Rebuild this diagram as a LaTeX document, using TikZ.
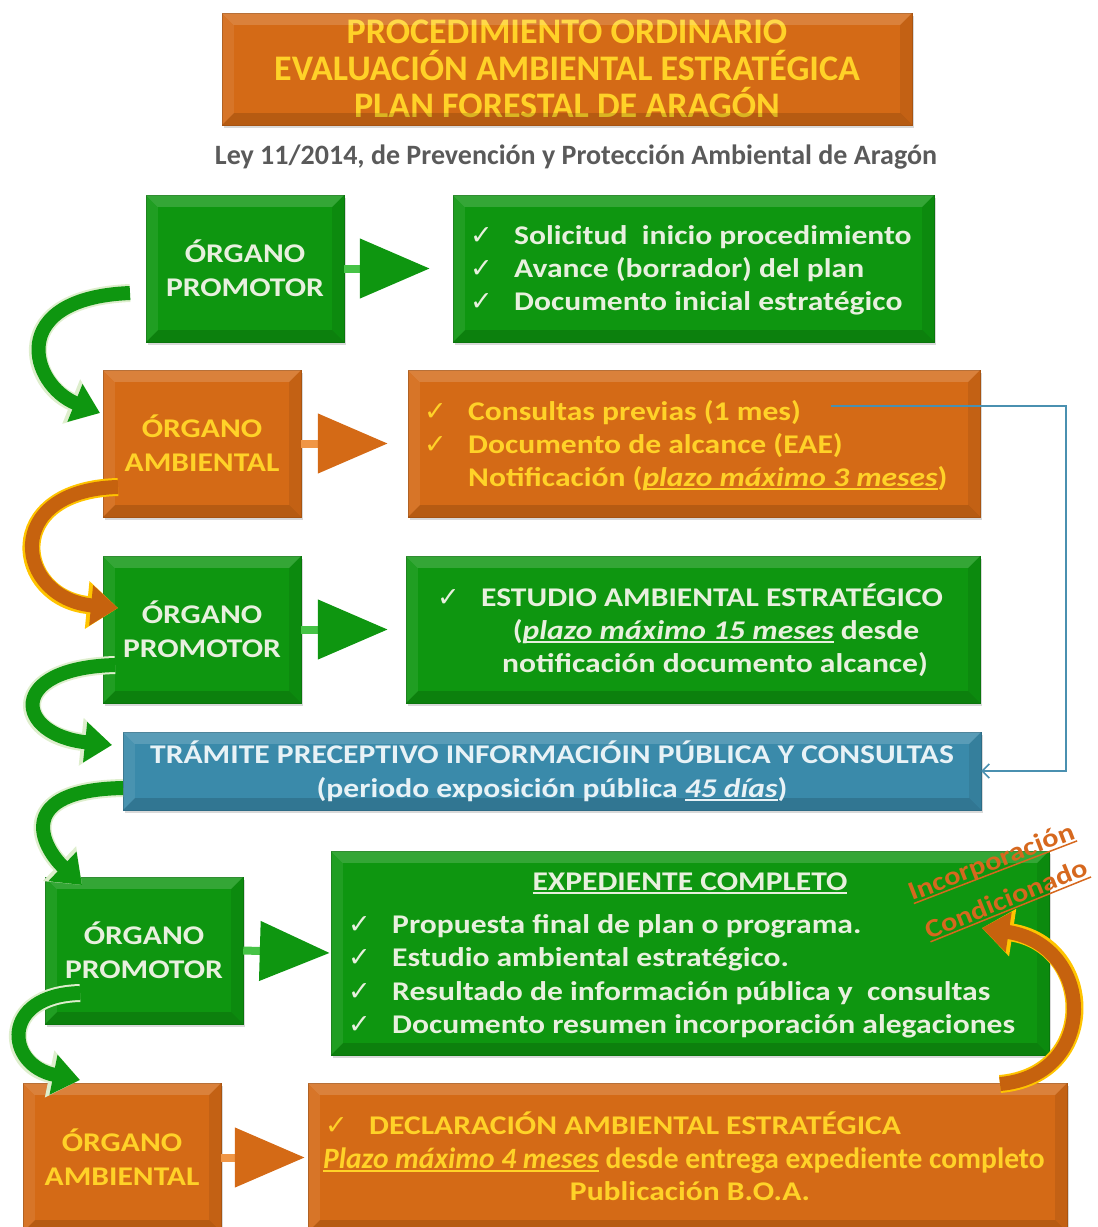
\documentclass[tikz,border=0pt]{standalone}
\usepackage{fontspec}
\setmainfont{Carlito}
\newfontfamily\boxfont{Carlito}[FakeStretch=1.17]
\newfontfamily\symfont{DejaVu Sans}
\usetikzlibrary{arrows.meta,shadows}

\definecolor{grn}{RGB}{14,150,16}
\definecolor{grnshaft}{RGB}{70,195,70}
\definecolor{org}{RGB}{212,106,22}
\definecolor{orgshaft}{RGB}{240,150,70}
\definecolor{blu}{RGB}{58,138,170}
\definecolor{gold}{RGB}{255,210,40}
\definecolor{pale}{RGB}{232,240,222}
\definecolor{bluetext}{RGB}{232,242,246}
\definecolor{linkblue}{RGB}{74,144,176}
\definecolor{subgray}{RGB}{90,90,90}
\definecolor{incorpc}{RGB}{214,104,30}
\definecolor{paleline}{RGB}{222,238,205}
\definecolor{goldline}{RGB}{255,196,0}
\definecolor{orgarrow}{RGB}{198,98,14}

% check mark in front of a line
\newcommand{\chk}{\makebox[44pt][l]{\symfont\fontsize{27}{27}\selectfont ✓}}
% underlined words
\newcommand{\undl}[1]{\setbox0\hbox{#1}\rlap{\rule[-3.5pt]{\wd0}{1.5pt}}\box0\relax}

% bevel bands on a box
\newcommand{\bevel}[1]{%
  \fill[white,opacity=.16] (#1.north west) -- (#1.north east) -- ([shift={(-12pt,-12pt)}]#1.north east) -- ([shift={(12pt,-12pt)}]#1.north west) -- cycle;
  \fill[white,opacity=.08] (#1.north west) -- ([shift={(12pt,-12pt)}]#1.north west) -- ([shift={(12pt,12pt)}]#1.south west) -- (#1.south west) -- cycle;
  \fill[black,opacity=.08] (#1.north east) -- ([shift={(-12pt,-12pt)}]#1.north east) -- ([shift={(-12pt,12pt)}]#1.south east) -- (#1.south east) -- cycle;
  \fill[black,opacity=.14] (#1.south west) -- ([shift={(12pt,12pt)}]#1.south west) -- ([shift={(-12pt,12pt)}]#1.south east) -- (#1.south east) -- cycle;
}

% curved block arrow: outline colour, fill colour, path
\newcommand{\bendarrow}[3]{%
  \draw[#1, line width=18pt, -{Triangle[length=31pt,width=46pt]}] #3;
  \draw[#2, line width=14pt, -{Triangle[length=27pt,width=39pt]}] #3;
}

\tikzset{
  box/.style={inner sep=0pt, align=center, minimum width=198pt, minimum height=147pt,
    font=\boxfont\bfseries\fontsize{27}{34}\selectfont,
    drop shadow={shadow xshift=2pt, shadow yshift=-3pt, opacity=.3}},
  greenbox/.style={box, fill=grn, draw=grn!80!black, text=pale},
  orangebox/.style={box, fill=org, draw=org!80!black, text=gold},
  bluebox/.style={box, fill=blu, draw=blu!80!black, text=bluetext},
  titlebox/.style={orangebox, minimum width=690pt, minimum height=112pt,
    font=\bfseries\fontsize{36}{37}\selectfont},
  linetext/.style={inner sep=0pt, font=\boxfont\bfseries\fontsize{27}{33}\selectfont},
  headgreen/.style={line width=8pt, draw=grnshaft, -{Triangle[length=70pt,width=58pt,color=grn]}},
  headorange/.style={line width=8pt, draw=orgshaft, -{Triangle[length=70pt,width=58pt,color=org]}},
  incorp/.style={inner sep=0pt, text=incorpc, font=\boxfont\bfseries\fontsize{26}{30}\selectfont}
}

\begin{document}
\begin{tikzpicture}[x=1pt, y=-1pt]
  \useasboundingbox (0,0) rectangle (1098,1227);

  % Title and law
  \node[titlebox] (title) at (567,69) {PROCEDIMIENTO ORDINARIO\\EVALUACIÓN AMBIENTAL ESTRATÉGICA\\PLAN FORESTAL DE ARAGÓN};
  \bevel{title}
  \node[text=subgray, inner sep=0pt, font=\bfseries\fontsize{28}{30}\selectfont] (ley) at (576,157) {Ley 11/2014, de Prevención y Protección Ambiental de Aragón};

  % Boxes of the procedure
  \node[greenbox] (prom1) at (245,268.5) {ÓRGANO\\PROMOTOR};
  \node[greenbox, minimum width=481pt] (list1) at (693.5,268.5) {};
  \node[orangebox] (amb1) at (202,443.5) {ÓRGANO\\AMBIENTAL};
  \node[orangebox, minimum width=572pt] (list2) at (694,443.5) {};
  \node[greenbox] (prom2) at (202,629.5) {ÓRGANO\\PROMOTOR};
  \node[greenbox, minimum width=574pt] (list3) at (693,629.5) {};
  \node[bluebox, minimum width=858pt, minimum height=78pt] (tram) at (552,771) {};
  \node[greenbox] (prom3) at (144,950.5) {ÓRGANO\\PROMOTOR};
  \node[greenbox, minimum width=718pt, minimum height=204pt] (list5) at (690,953) {};
  \node[orangebox, minimum height=149pt] (amb2) at (122,1157.5) {ÓRGANO\\AMBIENTAL};
  \node[orangebox, minimum width=759pt, minimum height=149pt] (list6) at (687.5,1157.5) {};
  \foreach \b in {prom1,list1,amb1,list2,prom2,list3,tram,prom3,list5,amb2,list6}
    \bevel{\b};

  % Texts in the boxes
  \foreach \n/\y/\txt in {1/244/{Solicitud\ \ inicio procedimiento}, 2/277/{Avance (borrador) del plan}, 3/310/{Documento inicial estratégico}}
    \node[linetext, text=pale, anchor=base west] (sol\n) at (470,\y) {\chk\txt};
  \foreach \n/\y/\txt in {1/420/{\chk Consultas previas (1 mes)}, 2/453/{\chk Documento de alcance (EAE)}, 3/486/{\hspace*{44pt}Notificación (\undl{\itshape plazo máximo 3 meses})}}
    \node[linetext, text=gold, anchor=base west] (cons\n) at (424,\y) {\txt};
  \foreach \n/\x/\y/\txt in {1/690/606/{\chk ESTUDIO AMBIENTAL ESTRATÉGICO}, 2/716/639/{(\undl{\itshape plazo máximo 15 meses} desde}, 3/715/672/{notificación documento alcance)}}
    \node[linetext, text=pale, anchor=base] (est\n) at (\x,\y) {\txt};
  \node[linetext, text=bluetext, anchor=base] (tram1) at (552,763) {TRÁMITE PRECEPTIVO INFORMACIÓIN PÚBLICA Y CONSULTAS};
  \node[linetext, text=bluetext, anchor=base] (tram2) at (552,797) {(periodo exposición pública \undl{\itshape 45 días})};
  \node[linetext, text=pale, anchor=base] (exptitle) at (690,890) {\undl{EXPEDIENTE COMPLETO}};
  \foreach \n/\y/\txt in {1/933/{Propuesta final de plan o programa.}, 2/966/{Estudio ambiental estratégico.}, 3/1000/{Resultado de información pública y\ \ consultas}, 4/1033/{Documento resumen incorporación alegaciones}}
    \node[linetext, text=pale, anchor=base west] (exp\n) at (348,\y) {\chk\txt};
  \node[linetext, text=gold, anchor=base west] (dec1) at (325,1134) {\chk DECLARACIÓN AMBIENTAL ESTRATÉGICA};
  \node[inner sep=0pt, text=gold, font=\bfseries\fontsize{29.5}{33}\selectfont, anchor=base west] (dec2) at (323,1168) {\undl{\itshape Plazo máximo 4 meses} desde entrega expediente completo};
  \node[linetext, text=gold, anchor=base] (dec3) at (690,1200) {Publicación B.O.A.};

  % Straight arrows from the organs to their tasks
  \draw[headgreen, shorten >=23pt] (prom1.east) -- (list1.west);
  \draw[headorange, shorten >=20pt] (amb1.east) -- (list2.west);
  \draw[headgreen, shorten >=18pt] (prom2.east) -- (list3.west);
  \draw[headgreen, shorten >=1pt] (prom3.east) -- (list5.west);
  \draw[headorange, shorten >=3pt] (amb2.east) -- (list6.west);

  % Curved arrows between the steps
  \coordinate (t1) at (130,293);  \coordinate (h1) at (100,413);
  \coordinate (t2) at (118,487);  \coordinate (h2) at (118,608);
  \coordinate (t3) at (115,665);  \coordinate (h3) at (112,745);
  \coordinate (t4) at (123,788);  \coordinate (h4) at (82,885);
  \coordinate (t5) at (80,993);   \coordinate (h5) at (80,1080);
  \coordinate (t6) at (1000,1084); \coordinate (h6) at (982,928);
  \bendarrow{paleline}{grn}{(t1) .. controls (5,298) and (30,385) .. (h1)}
  \bendarrow{goldline}{orgarrow}{(t2) .. controls (0,490) and (15,598) .. (h2)}
  \bendarrow{paleline}{grn}{(t3) .. controls (5,668) and (15,735) .. (h3)}
  \bendarrow{paleline}{grn}{(t4) .. controls (15,790) and (40,845) .. (h4)}
  \bendarrow{paleline}{grn}{(t5) .. controls (0,995) and (5,1065) .. (h5)}
  \bendarrow{goldline}{orgarrow}{(t6) .. controls (1100,1075) and (1095,945) .. (h6)}

  % Consultas previas feed the public information step
  \draw[linkblue, line width=1.5pt, -{Straight Barb[length=7pt,width=14pt]}]
    ([xshift=30pt,yshift=6pt]cons1.east) -| ([xshift=85pt]tram.east) -- (tram.east);

  % Conditioned incorporation
  \node[incorp, rotate=21] (inc) at (992,863) {\undl{Incorporación}};
  \node[incorp, rotate=22] (cond) at (1007,900) {\undl{Condicionado}};
\end{tikzpicture}
\end{document}
